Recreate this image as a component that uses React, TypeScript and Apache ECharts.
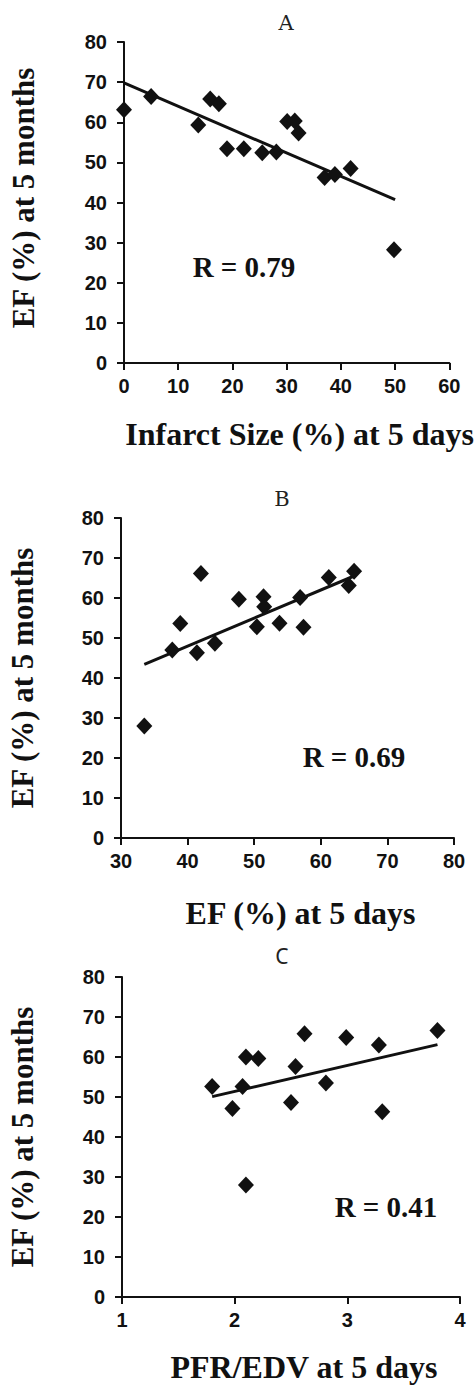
import React, { useEffect, useRef } from "react";
import * as echarts from "echarts";

// Panel A: infarct size vs EF at 5 months
const infarctSize = [0, 5, 13.7, 15.9, 17.5, 19.0, 22.1, 25.5, 28.1, 30.1, 31.5, 32.2, 37.0, 38.9, 41.8, 49.8];
const efMonthsA = [63.1, 66.4, 59.3, 65.8, 64.6, 53.4, 53.4, 52.4, 52.6, 60.2, 60.3, 57.3, 46.2, 47.0, 48.5, 28.2];
const trendAX = [0, 50];
const trendAY = [69.8, 40.7];

// Panel B: EF at 5 days vs EF at 5 months
const efDays = [33.5, 37.7, 38.9, 41.4, 42.0, 44.1, 47.7, 50.4, 51.4, 51.5, 53.8, 56.9, 57.4, 61.2, 64.2, 65.0];
const efMonthsB = [28.0, 47.0, 53.6, 46.3, 66.1, 48.7, 59.7, 52.8, 60.3, 57.8, 53.7, 60.1, 52.7, 65.1, 63.1, 66.7];
const trendBX = [33.5, 65.0];
const trendBY = [43.4, 65.5];

// Panel C: PFR/EDV at 5 days vs EF at 5 months
const pfrEdv = [1.8, 1.98, 2.07, 2.1, 2.1, 2.21, 2.5, 2.54, 2.62, 2.81, 2.99, 3.28, 3.31, 3.8];
const efMonthsC = [52.6, 47.1, 52.6, 60.0, 28.0, 59.6, 48.6, 57.6, 65.8, 53.5, 64.9, 63.0, 46.3, 66.6];
const trendCX = [1.8, 3.8];
const trendCY = [50.1, 63.1];

const panelTitles = ["A", "B", "C"];
const xAxisNames = ["Infarct Size (%) at 5 days", "EF (%) at 5 days", "PFR/EDV at 5 days"];
const yAxisName = "EF (%) at 5 months";
const rLabels = ["R = 0.79", "R = 0.69", "R = 0.41"];
const xRanges = [
  { min: 0, max: 60, interval: 10 },
  { min: 30, max: 80, interval: 10 },
  { min: 1, max: 4, interval: 1 },
];
const yRange = { min: 0, max: 80, interval: 10 };

const zip = (xs: number[], ys: number[]) => xs.map((x, i) => [x, ys[i]]);

export default function App() {
  const ref = useRef<HTMLDivElement>(null);
  useEffect(() => {
    if (!ref.current) return;
    const chart = echarts.init(ref.current, null, { renderer: "svg" });
    const ink = "#111";
    const grids = [
      { left: 124, top: 42, width: 333, height: 321 },
      { left: 121, top: 518, width: 333, height: 320 },
      { left: 122, top: 977, width: 338, height: 320 },
    ];
    const xGaps = [55, 59, 54];
    const labelStyle = {
      color: "#111",
      fontFamily: "Liberation Sans",
      fontWeight: 700,
      fontSize: 20,
    };
    const axisCommon = {
      axisLine: { show: true, lineStyle: { color: ink, width: 2 } },
      axisTick: { show: true, inside: false, length: 7, lineStyle: { color: ink, width: 2 } },
      splitLine: { show: false },
    };
    const xAxis = xRanges.map((r, i) => ({
      type: "value",
      gridIndex: i,
      ...r,
      ...axisCommon,
      axisLabel: { ...labelStyle, margin: 13 },
      name: xAxisNames[i],
      nameLocation: "middle",
      nameGap: xGaps[i],
      nameTextStyle: {
        fontFamily: "Liberation Serif",
        fontWeight: 700,
        fontSize: 32,
        color: "#111",
        padding: [0, 0, 0, 26],
      },
    }));
    const yAxis = [0, 1, 2].map((i) => ({
      type: "value",
      gridIndex: i,
      ...yRange,
      ...axisCommon,
      axisLabel: { ...labelStyle, margin: 17 },
    }));
    const scatterData = [zip(infarctSize, efMonthsA), zip(efDays, efMonthsB), zip(pfrEdv, efMonthsC)];
    const trendData = [zip(trendAX, trendAY), zip(trendBX, trendBY), zip(trendCX, trendCY)];
    const series: any[] = [];
    for (let i = 0; i < 3; i++) {
      series.push({
        type: "line",
        xAxisIndex: i,
        yAxisIndex: i,
        data: trendData[i],
        showSymbol: false,
        symbol: "none",
        lineStyle: { color: ink, width: 3 },
        z: 2,
      });
      series.push({
        type: "scatter",
        xAxisIndex: i,
        yAxisIndex: i,
        data: scatterData[i],
        symbol: "diamond",
        symbolSize: [16, 17],
        itemStyle: { color: ink, opacity: 1 },
        z: 3,
      });
    }
    const titlePos = [
      { x: 286, y: 23, font: "DejaVu Serif" },
      { x: 282, y: 499, font: "DejaVu Serif" },
      { x: 282, y: 956, font: "Noto Sans" },
    ];
    const rPos = [
      { x: 244, y: 267 },
      { x: 354, y: 757 },
      { x: 386, y: 1207 },
    ];
    const yNamePos = [
      { x: 23, y: 198 },
      { x: 22, y: 678 },
      { x: 22, y: 1137 },
    ];
    const graphic: any[] = [];
    for (let i = 0; i < 3; i++) {
      graphic.push({
        type: "text",
        x: titlePos[i].x,
        y: titlePos[i].y,
        style: {
          text: panelTitles[i],
          fontFamily: titlePos[i].font,
          fontSize: 21,
          fill: "#222",
          align: "center",
          verticalAlign: "middle",
        },
      });
      graphic.push({
        type: "text",
        x: rPos[i].x,
        y: rPos[i].y,
        style: {
          text: rLabels[i],
          fontFamily: "Liberation Serif",
          fontWeight: 700,
          fontSize: 29,
          fill: "#111",
          align: "center",
          verticalAlign: "middle",
        },
      });
      graphic.push({
        type: "text",
        x: yNamePos[i].x,
        y: yNamePos[i].y,
        rotation: Math.PI / 2,
        style: {
          text: yAxisName,
          fontFamily: "Liberation Serif",
          fontWeight: 700,
          fontSize: 31,
          fill: "#111",
          align: "center",
          verticalAlign: "middle",
        },
      });
    }
    chart.setOption({
      animation: false,
      backgroundColor: "#fff",
      grid: grids.map((g) => ({ ...g, containLabel: false })),
      xAxis,
      yAxis,
      series,
      graphic,
    });
    return () => chart.dispose();
  }, []);
  return (
    <div
      ref={ref}
      style={{ position: "absolute", left: 0, top: 0, width: 476, height: 1385 }}
    />
  );
}
